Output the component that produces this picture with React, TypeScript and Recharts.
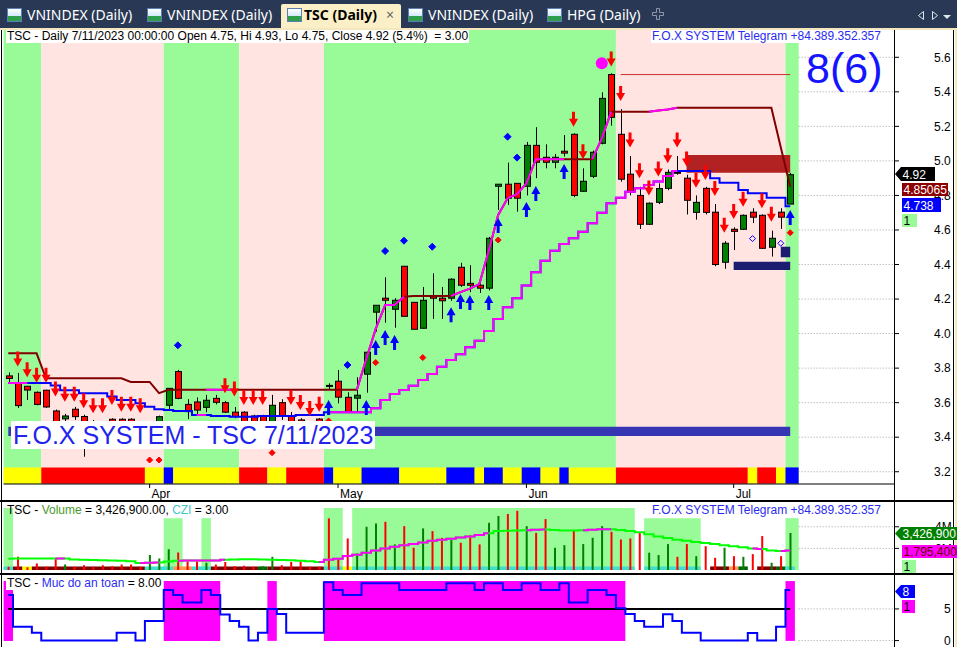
import React from 'react';
import {
  ComposedChart,
  Bar,
  Line,
  Scatter,
  XAxis,
  YAxis,
  ReferenceArea,
  ReferenceLine,
  Cell,
} from 'recharts';

const FONT = '"Liberation Sans", Arial, sans-serif';
const UI_FONT = '"Noto Sans", "Open Sans", sans-serif';

// TSC daily bars, 13/03/2023 .. 11/07/2023 (84 sessions)
const opens = [3.755, 3.715, 3.695, 3.66, 3.672, 3.552, 3.506, 3.562, 3.52, 3.49, 3.46, 3.504, 3.504, 3.504, 3.48, 3.46, 3.45, 3.585, 3.78, 3.59, 3.604, 3.573, 3.625, 3.6, 3.545, 3.545, 3.523, 3.523, 3.47, 3.6, 3.523, 3.5, 3.48, 3.505, 3.7, 3.724, 3.631, 3.626, 3.765, 4.124, 4.205, 4.141, 4.39, 4.181, 4.031, 4.215, 4.205, 4.205, 4.384, 4.291, 4.28, 4.263, 4.853, 4.865, 4.87, 4.853, 5.09, 5.021, 4.992, 5.056, 5.154, 4.824, 4.911, 5.102, 5.5, 5.154, 4.923, 4.8, 4.633, 4.76, 4.841, 4.934, 4.9, 4.702, 4.841, 4.703, 4.413, 4.604, 4.604, 4.703, 4.685, 4.5, 4.703, 4.75];
const highs = [3.775, 3.772, 3.695, 3.665, 3.675, 3.56, 3.535, 3.575, 3.53, 3.5, 3.47, 3.51, 3.51, 3.51, 3.49, 3.47, 3.525, 3.683, 3.79, 3.62, 3.63, 3.645, 3.645, 3.61, 3.575, 3.55, 3.53, 3.53, 3.645, 3.62, 3.546, 3.51, 3.49, 3.51, 3.712, 3.789, 3.66, 3.747, 3.895, 4.164, 4.326, 4.205, 4.39, 4.181, 4.27, 4.349, 4.27, 4.32, 4.41, 4.396, 4.29, 4.56, 4.865, 4.99, 4.87, 5.11, 5.195, 5.096, 5.04, 5.15, 5.16, 4.957, 5.06, 5.397, 5.507, 5.3, 5.028, 4.85, 4.76, 4.87, 4.95, 5.028, 4.92, 4.8, 4.85, 4.75, 4.535, 4.615, 4.69, 4.726, 4.69, 4.596, 4.726, 4.93];
const lows = [3.71, 3.569, 3.615, 3.585, 3.57, 3.45, 3.49, 3.5, 3.287, 3.42, 3.4, 3.42, 3.42, 3.44, 3.43, 3.42, 3.44, 3.558, 3.62, 3.505, 3.53, 3.545, 3.59, 3.54, 3.51, 3.44, 3.45, 3.46, 3.45, 3.5, 3.45, 3.44, 3.43, 3.45, 3.675, 3.596, 3.54, 3.548, 3.658, 4.011, 4.063, 4.034, 4.1, 4.025, 4.03, 4.085, 4.085, 4.19, 4.27, 4.24, 4.235, 4.25, 4.716, 4.745, 4.706, 4.8, 4.9, 4.957, 4.957, 5.025, 4.79, 4.82, 4.9, 5.096, 5.204, 4.88, 4.8, 4.606, 4.63, 4.75, 4.83, 4.92, 4.69, 4.66, 4.69, 4.39, 4.375, 4.484, 4.6, 4.64, 4.49, 4.446, 4.606, 4.75];
const closes = [3.74, 3.583, 3.673, 3.59, 3.575, 3.47, 3.523, 3.519, 3.44, 3.44, 3.42, 3.45, 3.44, 3.46, 3.46, 3.45, 3.519, 3.683, 3.625, 3.548, 3.557, 3.614, 3.602, 3.545, 3.52, 3.47, 3.48, 3.49, 3.585, 3.523, 3.47, 3.46, 3.45, 3.47, 3.7, 3.632, 3.548, 3.643, 3.892, 4.164, 4.193, 4.193, 4.1, 4.025, 4.193, 4.205, 4.19, 4.315, 4.28, 4.28, 4.263, 4.552, 4.865, 4.784, 4.784, 5.09, 4.992, 4.992, 5.021, 5.045, 4.8, 4.882, 5.05, 5.362, 5.252, 4.894, 4.822, 4.633, 4.755, 4.84, 4.934, 4.93, 4.772, 4.76, 4.702, 4.4, 4.523, 4.592, 4.685, 4.674, 4.494, 4.552, 4.674, 4.92];

const monthTicks = [15, 35, 55, 77];
const monthNames = ['Apr', 'May', 'Jun', 'Jul'];
const priceTicks = [3.2, 3.4, 3.6, 3.8, 4.0, 4.2, 4.4, 4.6, 4.8, 5.0, 5.2, 5.4, 5.6];

// stop lines
const upperLine = [3.886, 3.886, 3.886, 3.886, 3.741, 3.741, 3.741, 3.741, 3.741, 3.741, 3.741, 3.741, 3.741, 3.72, 3.72, 3.72, 3.655, 3.675, 3.675, 3.675, 3.675, 3.675, 3.675, 3.675, 3.675, 3.675, 3.675, 3.675, 3.675, 3.675, 3.675, 3.675, 3.675, 3.675, 3.675, 3.675, 3.675, 3.675, 3.853, 4.027, 4.165, 4.165, 4.214, 4.218, 4.218, 4.218, 4.218, 4.218, 4.24, 4.26, 4.287, 4.48, 4.687, 4.784, 4.807, 4.87, 5.01, 5.01, 5.01, 5.01, 5.01, 5.01, 5.01, 5.13, 5.285, 5.285, 5.285, 5.285, 5.285, 5.292, 5.298, 5.308, 5.308, 5.308, 5.308, 5.308, 5.308, 5.308, 5.308, 5.308, 5.308, 5.308, 5.079, 4.851];
const upperMagentaRuns = [[21, 24], [37, 40], [41, 42], [47, 59], [62, 64], [68, 71]];
const lowerLine = [3.714, 3.714, 3.714, 3.714, 3.714, 3.7, 3.672, 3.672, 3.654, 3.654, 3.654, 3.635, 3.616, 3.616, 3.596, 3.577, 3.562, 3.558, 3.552, 3.552, 3.529, 3.529, 3.523, 3.523, 3.519, 3.519, 3.519, 3.523, 3.523, 3.523, 3.523, 3.529, 3.529, 3.529, 3.544, 3.544, 3.544, 3.544, 3.544, 3.568, 3.616, 3.65, 3.673, 3.698, 3.731, 3.766, 3.808, 3.847, 3.88, 3.921, 3.959, 4.015, 4.085, 4.152, 4.205, 4.278, 4.355, 4.422, 4.48, 4.519, 4.552, 4.59, 4.639, 4.7, 4.755, 4.787, 4.822, 4.841, 4.861, 4.88, 4.913, 4.942, 4.942, 4.942, 4.942, 4.9, 4.874, 4.874, 4.832, 4.813, 4.813, 4.787, 4.787, 4.738];
const lowerMagentaRuns = [[0, 2], [20, 21], [34, 71]];

// background bands and bottom colour strip: [colour, first bar, last bar]
const bgBands: [string, number, number][] = [['g', 0, 3], ['p', 4, 16], ['g', 17, 24], ['p', 25, 33], ['g', 34, 64], ['p', 65, 82], ['g', 83, 83]];
const stripRuns: [string, number, number][] = [['y', 0, 3], ['r', 4, 14], ['y', 15, 16], ['b', 17, 17], ['y', 18, 24], ['r', 25, 27], ['y', 28, 29], ['r', 30, 33], ['b', 34, 34], ['y', 35, 37], ['b', 38, 41], ['y', 42, 46], ['b', 47, 49], ['y', 50, 50], ['b', 51, 52], ['y', 53, 54], ['b', 55, 56], ['y', 57, 58], ['b', 59, 59], ['y', 60, 64], ['r', 65, 78], ['y', 79, 79], ['r', 80, 81], ['y', 82, 82], ['b', 83, 83]];

// signals: [bar, price]
const arrowsDown = [[1, 3.81], [2, 3.747], [3, 3.716], [4, 3.716], [5, 3.635], [6, 3.606], [7, 3.606], [8, 3.568], [9, 3.539], [10, 3.539], [11, 3.587], [12, 3.548], [13, 3.548], [14, 3.539], [23, 3.654], [24, 3.635], [25, 3.587], [26, 3.587], [27, 3.587], [30, 3.587], [31, 3.558], [32, 3.523], [33, 3.548], [60, 5.198], [61, 5.009], [64, 5.546], [65, 5.347], [66, 5.077], [67, 4.899], [68, 4.799], [69, 4.909], [70, 4.986], [71, 5.077], [72, 4.967], [73, 4.845], [74, 4.89], [75, 4.797], [76, 4.584], [77, 4.664], [78, 4.735], [80, 4.726], [81, 4.648]];
const arrowsUp = [[34, 3.616], [38, 3.616], [39, 3.963], [40, 4.021], [41, 3.992], [47, 4.152], [48, 4.229], [49, 4.224], [51, 4.224], [52, 4.67], [55, 4.762], [56, 4.855], [59, 4.982], [83, 4.716]];
const blueDots = [[18, 3.932], [36, 3.818], [40, 4.478], [42, 4.538], [45, 4.503], [53, 5.14], [54, 5.019]];
const redDots = [[15, 3.268], [16, 3.268], [28, 3.31], [34, 3.494], [39, 3.832], [44, 3.861], [52, 4.542], [83, 4.584]];
const hollowDots = [[79, 4.55], [82, 4.523]];
const peakDots = [[63, 5.565]];

// zones
const resistZone = { from: 72, to: 83, lo: 4.932, hi: 5.034 };
const supportZones = [{ from: 77, to: 83, lo: 4.368, hi: 4.416 }, { from: 82, to: 83, lo: 4.442, hi: 4.503 }];
const baseZone = { from: 0, to: 83, lo: 3.407, hi: 3.461 };
const peakLevel = { from: 65, to: 83, value: 5.5 };

// volume (millions)
const volumes = [0.3, 1.22, 0.25, 0.6, 0.3, 1.07, 0.5, 0.3, 0.45, 0.3, 0.45, 0.35, 0.5, 0.5, 0.3, 1.38, 1.07, 1.93, 1.63, 0.82, 0.8, 0.67, 0.5, 0.75, 0.35, 0.4, 0.3, 0.35, 1.22, 0.45, 0.75, 0.8, 0.3, 0.3, 4.78, 1.1, 2.92, 1.53, 4.0, 4.31, 4.46, 2.37, 4.06, 2.06, 3.85, 3.6, 2.98, 2.77, 2.52, 3.23, 2.37, 4.37, 5.0, 5.18, 5.48, 4.06, 3.44, 4.71, 2.06, 2.3, 3.63, 2.4, 2.98, 4.06, 3.54, 2.83, 2.92, 3.44, 1.6, 1.38, 2.4, 1.22, 2.4, 1.28, 2.2, 1.13, 2.06, 1.28, 1.22, 1.47, 3.14, 0.67, 1.28, 3.4269];
const volumeDir = ('dddddduddd' + 'ddddduuudd' + 'duddddduud' + 'ddddddduuu' + 'dudduddudd' + 'duuddudduu' + 'duuudddduu' + 'udduddudud' + 'dudu').split('');
const volumeMA = [1.05, 1.07, 1.07, 1.07, 1.06, 1.07, 1.07, 0.98, 0.95, 0.92, 0.9, 0.88, 0.85, 0.8, 0.65, 0.66, 0.7, 0.78, 0.85, 0.88, 0.88, 0.88, 0.88, 0.95, 0.98, 1.0, 1.0, 0.98, 0.95, 0.92, 0.9, 0.85, 0.8, 0.75, 0.95, 1.05, 1.3, 1.4, 1.6, 1.8, 2.0, 2.15, 2.3, 2.4, 2.55, 2.7, 2.8, 2.9, 3.0, 3.1, 3.23, 3.4, 3.6, 3.63, 3.65, 3.68, 3.72, 3.75, 3.7, 3.65, 3.65, 3.68, 3.72, 3.76, 3.76, 3.7, 3.6, 3.5, 3.3, 3.1, 2.95, 2.8, 2.7, 2.6, 2.5, 2.4, 2.3, 2.2, 2.1, 2.0, 1.95, 1.8, 1.75, 1.795];
const volumeMAMagentaRuns = [[5, 6], [14, 16], [18, 23], [33, 51], [55, 57], [61, 64], [79, 80], [82, 83]];
const volumeBgTall = [[0, 0], [34, 35], [37, 66]];
const volumeBgShort = [[17, 18], [21, 21], [68, 73], [83, 83]];
const volumeStrip: [string, number, number][] = [['t', 0, 0], ['r', 1, 1], ['y', 2, 2], ['r', 3, 14], ['t', 15, 17], ['o', 18, 19], ['t', 20, 21], ['r', 22, 26], ['g', 27, 27], ['r', 28, 33], ['t', 34, 35], ['y', 36, 36], ['t', 37, 66], ['t', 68, 73], ['r', 75, 76], ['o', 77, 77], ['g', 78, 78], ['r', 80, 81], ['g', 82, 82], ['t', 83, 83]];
const volumeTicks = [2, 4];

// "Muc do an toan" (safety level)
const safety = [7.2, 2.2, 2.2, 1.25, 0, 0, 0, 0, 0, 0, 0, 0, 1.25, 1.25, 0, 3.1, 3.1, 8, 7.2, 6, 6, 8, 7.2, 4.1, 3.1, 2.2, 0, 1.25, 5, 4.2, 1.25, 1.25, 1.25, 1.25, 9.2, 8, 7.2, 7.2, 9.05, 9.05, 9.05, 9.05, 8, 8, 8, 8, 8, 9.05, 9.05, 9.05, 8, 9.05, 9.05, 8, 8, 9.05, 9.05, 8, 8, 9.05, 6, 6, 8, 8, 7.2, 5.1, 4.2, 3.1, 2.2, 2.2, 4.15, 3.1, 1.25, 1.25, 0, 0, 0, 0, 0, 1.2, 0, 0, 2.2, 8];
const safetyMagentaRuns = [[0, 0], [17, 22], [28, 28], [34, 65], [83, 83]];
const safetyTicks = [0, 5];
const safetyLevel = 5;

const X_DOMAIN: [number, number] = [-0.5, 94.02];
const LAST_EDGE = 83.9;
const LEFT = 3.6;

const inRuns = (runs: number[][], i: number) => runs.some(([a, b]) => i >= a && i <= b);
const edgeRight = (b: number) => (b === 83 ? LAST_EDGE : b + 0.5);

const bandColor: Record<string, string> = { g: '#98fb98', p: '#ffe4e1' };
const stripColor: Record<string, string> = { y: '#ffff00', r: '#ff0000', b: '#0000ff' };
const volStripColor: Record<string, string> = { t: '#40e0d0', r: '#800000', y: '#ffff00', o: '#ff9a50', g: '#006400' };

const priceRows = opens.map((o, i) => ({
  x: i,
  o,
  h: highs[i],
  l: lows[i],
  c: closes[i],
  upper: upperLine[i],
  upperMag: inRuns(upperMagentaRuns, i) ? upperLine[i] : null,
  lower: lowerLine[i],
  lowerMag: inRuns(lowerMagentaRuns, i) ? lowerLine[i] : null,
}));

const volRows = volumes.map((v, i) => ({
  x: i,
  v,
  ma: volumeMA[i],
  maMag: inRuns(volumeMAMagentaRuns, i) ? volumeMA[i] : null,
}));

const safetyRows = safety.map((s, i) => ({ x: i, s }));

const pts = (list: number[][]) => list.map(([x, y]) => ({ x, y }));

const Candle = (props: any) => {
  const { x, y, width, height, payload } = props;
  if (payload == null || x == null || y == null) return null;
  const top = Math.min(y, y + height);
  const span = Math.abs(height);
  const range = payload.h - payload.l;
  const py = (v: number) => (range > 0 ? top + ((payload.h - v) / range) * span : top);
  const left = Math.round(x) + 0.5;
  const cx = left + width / 2;
  const yo = py(payload.o);
  const yc = py(payload.c);
  const bTop = Math.min(yo, yc);
  const bH = Math.max(Math.abs(yo - yc), 1);
  const up = payload.c >= payload.o;
  return (
    <g>
      <line x1={cx} x2={cx} y1={top} y2={top + span} stroke="#000" strokeWidth={1} />
      <rect x={left} y={bTop} width={width} height={bH} fill={up ? '#008000' : '#ff0000'} stroke="#000" strokeWidth={1} />
    </g>
  );
};

const DownArrow = (p: any) => {
  const { cx, cy } = p;
  if (cx == null) return null;
  const pts = [
    [cx - 1.5, cy - 15], [cx + 1.5, cy - 15], [cx + 1.5, cy - 8], [cx + 4.5, cy - 8],
    [cx, cy], [cx - 4.5, cy - 8], [cx - 1.5, cy - 8],
  ];
  return <polygon points={pts.map((q) => q.join(',')).join(' ')} fill="#ff0000" />;
};

const UpArrow = (p: any) => {
  const { cx, cy } = p;
  if (cx == null) return null;
  const pts = [
    [cx - 1.5, cy + 15], [cx + 1.5, cy + 15], [cx + 1.5, cy + 8], [cx + 4.5, cy + 8],
    [cx, cy], [cx - 4.5, cy + 8], [cx - 1.5, cy + 8],
  ];
  return <polygon points={pts.map((q) => q.join(',')).join(' ')} fill="#0000ff" />;
};

const Diamond = (color: string, r: number, hollow = false) => (p: any) => {
  const { cx, cy } = p;
  if (cx == null) return null;
  return (
    <polygon
      points={`${cx},${cy - r} ${cx + r},${cy} ${cx},${cy + r} ${cx - r},${cy}`}
      fill={hollow ? 'none' : color}
      stroke={color}
      strokeWidth={1}
    />
  );
};

const PeakDot = (p: any) => {
  const { cx, cy } = p;
  if (cx == null) return null;
  return <circle cx={cx} cy={cy} r={6} fill="#ff00ff" />;
};

const MonthTick = (props: any) => {
  const { x, y, payload } = props;
  const idx = monthTicks.indexOf(payload.value);
  return (
    <text x={x + 2} y={y + 8} fontSize={12} fontFamily={FONT} fill="#000">
      {monthNames[idx]}
    </text>
  );
};

const gridSegments = (ticks: number[], prefix: string) =>
  ticks.map((v) => (
    <ReferenceLine
      key={`${prefix}-${v}`}
      segment={[{ x: LAST_EDGE, y: v }, { x: X_DOMAIN[1], y: v }]}
      stroke="#a0a0a0"
      strokeDasharray="1 2"
    />
  ));

const PriceChart = () => (
  <ComposedChart width={957} height={470} data={priceRows} margin={{ top: 0, right: 0, bottom: 0, left: LEFT }}>
    <XAxis
      type="number"
      dataKey="x"
      domain={X_DOMAIN}
      allowDataOverflow
      ticks={monthTicks}
      interval={0}
      height={16}
      tickSize={4}
      tickLine={{ stroke: '#000' }}
      axisLine={{ stroke: '#000' }}
      tick={(p: any) => <MonthTick {...p} />}
    />
    <YAxis
      orientation="right"
      width={63}
      domain={[3.129, 5.758]}
      allowDataOverflow
      ticks={priceTicks}
      interval={0}
      tickSize={5}
      tickMargin={35}
      axisLine={false}
      tickLine={{ stroke: '#000' }}
      tick={{ fontSize: 12, fill: '#000', fontFamily: FONT }}
      tickFormatter={(v: number) => v.toFixed(1)}
    />
    {bgBands.map(([c, a, b]) => (
      <ReferenceArea key={`bg-${a}`} x1={a - 0.5} x2={edgeRight(b)} fill={bandColor[c]} fillOpacity={1} stroke="none" />
    ))}
    {stripRuns.map(([c, a, b]) => (
      <ReferenceArea key={`st-${a}`} x1={a - 0.5} x2={edgeRight(b)} y1={3.131} y2={3.225} fill={stripColor[c]} fillOpacity={1} stroke="none" />
    ))}
    <ReferenceArea x1={baseZone.from} x2={baseZone.to} y1={baseZone.lo} y2={baseZone.hi} fill="#3636b4" fillOpacity={1} stroke="none" />
    {gridSegments(priceTicks, 'pg')}
    <Bar dataKey={(d: any) => [d.l, d.h]} barSize={6} shape={(p: any) => <Candle {...p} />} isAnimationActive={false} />
    <Line type="linear" dataKey="upper" stroke="#800000" strokeWidth={2} dot={false} isAnimationActive={false} />
    <Line type="linear" dataKey="upperMag" stroke="#ff00ff" strokeWidth={2} dot={false} isAnimationActive={false} />
    <Line type="step" dataKey="lower" stroke="#0000ff" strokeWidth={2} dot={false} isAnimationActive={false} />
    <Line type="step" dataKey="lowerMag" stroke="#ff00ff" strokeWidth={2} dot={false} isAnimationActive={false} />
    <ReferenceArea x1={resistZone.from} x2={resistZone.to} y1={resistZone.lo} y2={resistZone.hi} fill="#b22222" fillOpacity={1} stroke="none" />
    {supportZones.map((z) => (
      <ReferenceArea key={`sz-${z.from}`} x1={z.from} x2={z.to} y1={z.lo} y2={z.hi} fill="#1c1c70" fillOpacity={1} stroke="none" />
    ))}
    <ReferenceLine
      segment={[{ x: peakLevel.from, y: peakLevel.value }, { x: peakLevel.to, y: peakLevel.value }]}
      stroke="#d03030"
      strokeWidth={1}
    />
    <Scatter data={pts(arrowsDown)} dataKey="y" shape={(p: any) => <DownArrow {...p} />} isAnimationActive={false} />
    <Scatter data={pts(arrowsUp)} dataKey="y" shape={(p: any) => <UpArrow {...p} />} isAnimationActive={false} />
    <Scatter data={pts(blueDots)} dataKey="y" shape={Diamond('#0000ff', 3.5)} isAnimationActive={false} />
    <Scatter data={pts(redDots)} dataKey="y" shape={Diamond('#ff0000', 3)} isAnimationActive={false} />
    <Scatter data={pts(hollowDots)} dataKey="y" shape={Diamond('#0000ff', 3, true)} isAnimationActive={false} />
    <Scatter data={pts(peakDots)} dataKey="y" shape={(p: any) => <PeakDot {...p} />} isAnimationActive={false} />
  </ComposedChart>
);

const VolumeChart = () => (
  <ComposedChart width={957} height={68} data={volRows} margin={{ top: 1, right: 0, bottom: 0, left: LEFT }}>
    <XAxis type="number" dataKey="x" domain={X_DOMAIN} allowDataOverflow hide />
    <YAxis
      orientation="right"
      width={63}
      domain={[0, 6.2]}
      allowDataOverflow
      ticks={volumeTicks}
      interval={0}
      tickSize={5}
      tickMargin={36}
      axisLine={false}
      tickLine={{ stroke: '#000' }}
      tick={{ fontSize: 12, fill: '#000', fontFamily: FONT }}
      tickFormatter={(v: number) => `${v}M`}
    />
    {volumeBgTall.map(([a, b]) => (
      <ReferenceArea key={`vt-${a}`} x1={a - 0.5} x2={edgeRight(b)} y1={0} y2={5.73} fill="#98fb98" fillOpacity={1} stroke="none" />
    ))}
    {volumeBgShort.map(([a, b]) => (
      <ReferenceArea key={`vs-${a}`} x1={a - 0.5} x2={edgeRight(b)} y1={0} y2={4.8} fill="#98fb98" fillOpacity={1} stroke="none" />
    ))}
    {volumeStrip.map(([c, a, b]) => (
      <ReferenceArea key={`vst-${a}`} x1={a - 0.5} x2={b + 0.5} y1={0} y2={0.33} fill={volStripColor[c]} fillOpacity={1} stroke="none" />
    ))}
    {gridSegments(volumeTicks, 'vg')}
    <Bar dataKey="v" barSize={2} isAnimationActive={false}>
      {volRows.map((r, i) => (
        <Cell key={`vc-${i}`} fill={volumeDir[i] === 'u' ? '#008000' : '#ff0000'} />
      ))}
    </Bar>
    <Line type="step" dataKey="ma" stroke="#00ff00" strokeWidth={2} dot={false} isAnimationActive={false} />
    <Line type="step" dataKey="maMag" stroke="#ff00ff" strokeWidth={2} dot={false} isAnimationActive={false} />
  </ComposedChart>
);

const SafetyChart = () => (
  <ComposedChart width={957} height={71} data={safetyRows} margin={{ top: 0, right: 0, bottom: 2, left: LEFT }}>
    <XAxis type="number" dataKey="x" domain={X_DOMAIN} allowDataOverflow hide />
    <YAxis
      orientation="right"
      width={63}
      domain={[-0.7, 10.2]}
      allowDataOverflow
      ticks={safetyTicks}
      interval={0}
      tickSize={5}
      tickMargin={45}
      axisLine={false}
      tickLine={{ stroke: '#000' }}
      tick={{ fontSize: 12, fill: '#000', fontFamily: FONT }}
    />
    {safetyMagentaRuns.map(([a, b]) => (
      <ReferenceArea key={`sm-${a}`} x1={a - 0.5} x2={b + 0.5} y1={-0.05} y2={9.4} fill="#ff00ff" fillOpacity={1} stroke="none" />
    ))}
    {gridSegments(safetyTicks, 'sg')}
    <ReferenceLine segment={[{ x: 0, y: safetyLevel }, { x: 83, y: safetyLevel }]} stroke="#000" strokeWidth={2} />
    <Line type="step" dataKey="s" stroke="#0000ff" strokeWidth={2} dot={false} isAnimationActive={false} />
  </ComposedChart>
);

const TabIcon = ({ left }: { left: number }) => (
  <div
    style={{
      position: 'absolute',
      left,
      top: 8,
      width: 13,
      height: 12,
      border: '1px solid #5b7fb4',
      background: 'linear-gradient(to top, #2f9e4a 0%, #2f9e4a 38%, #cfe8ff 38%, #ffffff 100%)',
    }}
  />
);

const Tab = ({ left, text }: { left: number; text: string }) => (
  <>
    <TabIcon left={left} />
    <div style={{ position: 'absolute', left: left + 20, top: 5, fontSize: 14, color: '#ffffff', fontFamily: UI_FONT, whiteSpace: 'pre' }}>
      {text}
    </div>
  </>
);

const TabBar = () => (
  <div style={{ position: 'absolute', left: 0, top: 0, width: 957, height: 28, background: '#293955' }}>
    <Tab left={7} text="VNINDEX (Daily)" />
    <Tab left={147} text="VNINDEX (Daily)" />
    <div style={{ position: 'absolute', left: 281, top: 4, width: 120, height: 26, background: '#fbefc7', borderRadius: '2px 2px 0 0' }} />
    <TabIcon left={287} />
    <div style={{ position: 'absolute', left: 304, top: 5, fontSize: 14, fontWeight: 700, color: '#000', fontFamily: UI_FONT, whiteSpace: 'pre' }}>
      TSC (Daily)
    </div>
    <div style={{ position: 'absolute', left: 386, top: 5, fontSize: 14, color: '#666', fontFamily: UI_FONT }}>×</div>
    <Tab left={408} text="VNINDEX (Daily)" />
    <Tab left={547} text="HPG (Daily)" />
    <svg style={{ position: 'absolute', left: 652, top: 8 }} width={12} height={12}>
      <path d="M4.5,0.5 H7.5 V4.5 H11.5 V7.5 H7.5 V11.5 H4.5 V7.5 H0.5 V4.5 H4.5 Z" fill="none" stroke="#8d97aa" />
    </svg>
    <svg style={{ position: 'absolute', left: 916, top: 10 }} width={36} height={12}>
      <path d="M7.5,1.5 L2.5,5.5 L7.5,9.5 Z" fill="none" stroke="#dfe5ee" />
      <path d="M16.5,1.5 L21.5,5.5 L16.5,9.5 Z" fill="none" stroke="#dfe5ee" />
      <path d="M27,5 L35,5 L31,9 Z" fill="#dfe5ee" />
    </svg>
  </div>
);

const Tag = ({ top, left, width, height, bg, color, text, arrow }: any) => (
  <svg style={{ position: 'absolute', left: arrow ? left - 6 : left, top }} width={width + (arrow ? 6 : 0)} height={height}>
    {arrow ? (
      <polygon points={`0,${height / 2} 6,0 ${width + 6},0 ${width + 6},${height} 6,${height}`} fill={bg} />
    ) : (
      <rect x={0} y={0} width={width} height={height} fill={bg} />
    )}
    <text x={(arrow ? 6 : 0) + 1.5} y={height - 2.5} fontSize={12} fontFamily={FONT} fill={color}>
      {text}
    </text>
  </svg>
);

const textBox = (left: number, top: number): React.CSSProperties => ({
  position: 'absolute',
  left,
  top,
  height: 13,
  lineHeight: '13px',
  fontSize: 12,
  fontFamily: FONT,
  background: '#fff',
  whiteSpace: 'pre',
  padding: '0 1px',
});

export default function App() {
  return (
    <div style={{ position: 'absolute', left: 0, top: 0, width: 957, height: 647, overflow: 'hidden', background: '#fff', fontFamily: FONT }}>
      <TabBar />
      <div style={{ position: 'absolute', left: 0, top: 28, width: 957, height: 2, background: '#f5e7bd' }} />
      <div style={{ position: 'absolute', left: 955, top: 28, width: 2, height: 619, background: '#f5e7bd' }} />

      <div style={{ position: 'absolute', left: 0, top: 30 }}>
        <PriceChart />
      </div>
      <div style={{ position: 'absolute', left: 0, top: 502 }}>
        <VolumeChart />
      </div>
      <div style={{ position: 'absolute', left: 0, top: 576 }}>
        <SafetyChart />
      </div>

      {/* frame lines */}
      <div style={{ position: 'absolute', left: 0, top: 500, width: 954, height: 2, background: '#000' }} />
      <div style={{ position: 'absolute', left: 0, top: 573, width: 954, height: 2, background: '#000' }} />
      <div style={{ position: 'absolute', left: 894, top: 30, width: 1, height: 617, background: '#000' }} />
      <div style={{ position: 'absolute', left: 953, top: 30, width: 1, height: 617, background: '#000' }} />
      <div style={{ position: 'absolute', left: 1, top: 30, width: 1, height: 617, background: '#000' }} />

      {/* price panel texts */}
      <div style={textBox(6, 30)}>TSC - Daily 7/11/2023 00:00:00 Open 4.75, Hi 4.93, Lo 4.75, Close 4.92 (5.4%)  = 3.00</div>
      <div style={{ ...textBox(651, 30), color: '#2b2bf0' }}>F.O.X SYSTEM Telegram +84.389.352.357</div>
      <div style={{ position: 'absolute', left: 806, top: 43, fontSize: 43, lineHeight: '50px', color: '#1414ff', fontFamily: FONT }}>8(6)</div>
      <div
        style={{
          position: 'absolute',
          left: 11,
          top: 421,
          height: 28,
          lineHeight: '28px',
          padding: '0 2px',
          background: '#fff',
          color: '#2323ee',
          fontSize: 25,
          fontFamily: FONT,
          whiteSpace: 'pre',
        }}
      >
        F.O.X SYSTEM - TSC 7/11/2023
      </div>
      <Tag top={167} left={901} width={34} height={14} bg="#000" color="#fff" text="4.92" arrow />
      <Tag top={183} left={902} width={46} height={13} bg="#8b0000" color="#fff" text="4.85065" />
      <Tag top={198} left={902} width={39} height={14} bg="#0000ff" color="#fff" text="4.738" />
      <Tag top={214} left={902} width={15} height={13} bg="#98fb98" color="#000" text="1" />

      {/* volume panel texts */}
      <div style={{ ...textBox(6, 504), background: 'transparent' }}>
        TSC - <span style={{ color: '#4a9a2a' }}>Volume</span> = 3,426,900.00, <span style={{ color: '#45c4c8' }}>CZI</span> = 3.00
      </div>
      <div style={{ ...textBox(651, 504), color: '#2b2bf0' }}>F.O.X SYSTEM Telegram +84.389.352.357</div>
      <Tag top={527} left={901} width={56} height={13} bg="#008000" color="#fff" text="3,426,900" arrow />
      <Tag top={545} left={902} width={55} height={13} bg="#ff00ff" color="#6b0000" text="1,795,400" />
      <Tag top={560} left={902} width={14} height={13} bg="#98fb98" color="#000" text="1" />

      {/* safety panel texts */}
      <div style={textBox(6, 577)}>
        TSC - <span style={{ color: '#2d2df0' }}>Muc do an toan</span> = 8.00
      </div>
      <Tag top={585} left={901} width={14} height={13} bg="#0000ff" color="#fff" text="8" arrow />
      <Tag top={600} left={902} width={13} height={13} bg="#ff00ff" color="#000" text="1" />
    </div>
  );
}
